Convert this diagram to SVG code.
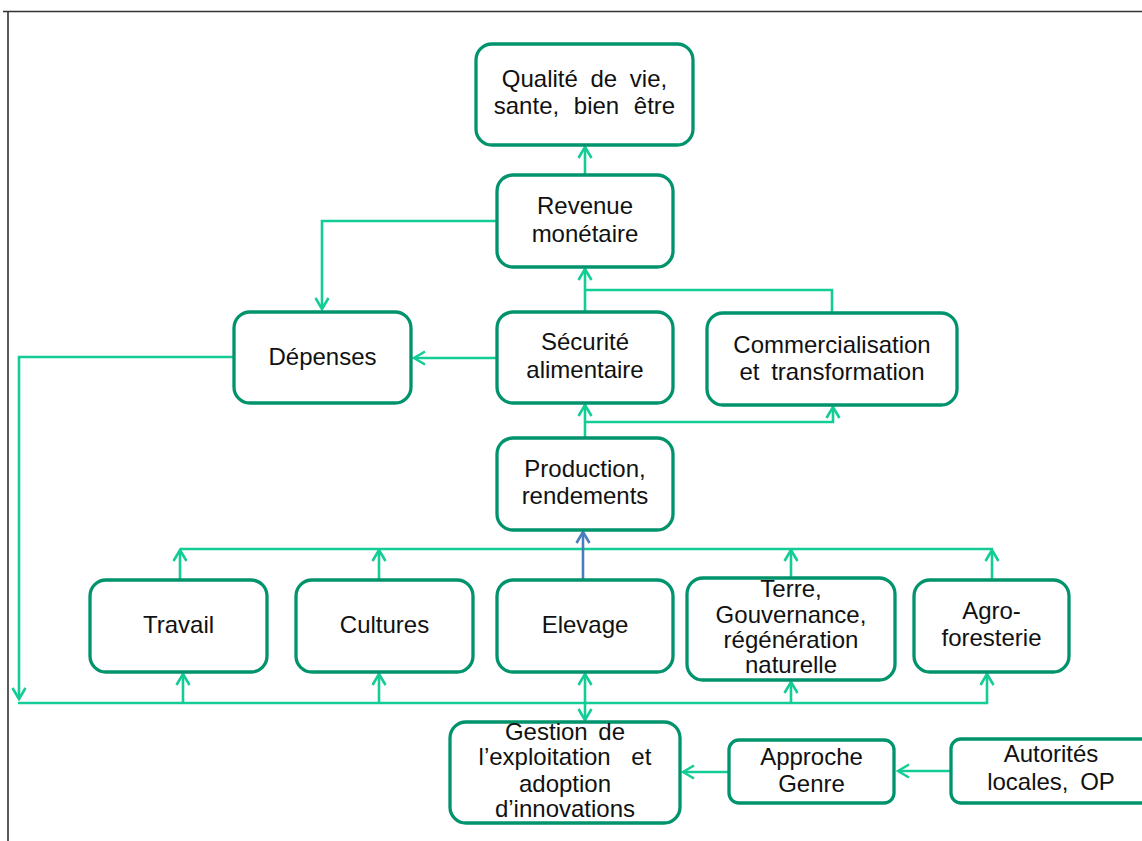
<svg xmlns="http://www.w3.org/2000/svg" width="1142" height="841" viewBox="0 0 1142 841">
<style>
.n rect{fill:#fff;stroke:#00936c;stroke-width:3.3}
.n text{font-family:"Liberation Sans",Arial,sans-serif;font-size:24px;fill:#111;text-anchor:middle}
.c path{fill:none;stroke:#14cc95;stroke-width:2.6}
.c .b{stroke:#4a7ebb}
</style>
<defs>
<marker id="a" markerUnits="userSpaceOnUse" viewBox="-13 -9 15 18" markerWidth="15" markerHeight="18" refX="0" refY="0" orient="auto-start-reverse">
<path d="M-11,-6.5 L0,0 L-11,6.5" fill="none" stroke="#14cc95" stroke-width="2.6"/>
</marker>
<marker id="ab" markerUnits="userSpaceOnUse" viewBox="-13 -9 15 18" markerWidth="15" markerHeight="18" refX="0" refY="0" orient="auto">
<path d="M-11,-6.5 L0,0 L-11,6.5" fill="none" stroke="#4a7ebb" stroke-width="2.6"/>
</marker>
</defs>
<rect width="1142" height="841" fill="#fff"/>
<path d="M3,11.5 H1142 M8,11 V841" stroke="#333" stroke-width="1.6" fill="none"/>
<g id="connectors" class="c">
<path d="M585,175 V147" marker-end="url(#a)"/>
<path d="M497,221 H322 V309" marker-end="url(#a)"/>
<path d="M497,358 H414" marker-end="url(#a)"/>
<path d="M585,312 V269" marker-end="url(#a)"/>
<path d="M585,290 H832 V313"/>
<path d="M585,438 V405" marker-end="url(#a)"/>
<path d="M585,422 H833 V407" marker-end="url(#a)"/>
<path d="M234,357 H19 V699" marker-end="url(#a)"/>
<path d="M180,549 H993"/>
<path d="M180,580 V550" marker-end="url(#a)"/>
<path d="M379,580 V550" marker-end="url(#a)"/>
<path d="M791,578 V550" marker-end="url(#a)"/>
<path d="M992,580 V550" marker-end="url(#a)"/>
<path d="M18,703 H987 V674" marker-end="url(#a)"/>
<path d="M183,703 V674" marker-end="url(#a)"/>
<path d="M379,703 V674" marker-end="url(#a)"/>
<path d="M791,703 V682" marker-end="url(#a)"/>
<path d="M585,674 V720" marker-start="url(#a)" marker-end="url(#a)"/>
<path d="M729,772 H683" marker-end="url(#a)"/>
<path d="M951,771 H898" marker-end="url(#a)"/>
<path class="b" d="M583,580 V532" marker-end="url(#ab)"/>
</g>
<g id="qualite" class="n"><rect x="476" y="44" width="217" height="101" rx="16"/><text x="584.5" y="87" font-size="21" word-spacing="6">Qualité de vie,</text><text x="584.5" y="114" font-size="21" word-spacing="8">sante, bien être</text></g>
<g id="revenue" class="n"><rect x="497" y="175" width="176" height="92" rx="16"/><text x="585" y="214">Revenue</text><text x="585" y="242">monétaire</text></g>
<g id="depenses" class="n"><rect x="234" y="312" width="177" height="91" rx="16"/><text x="322.5" y="365">Dépenses</text></g>
<g id="securite" class="n"><rect x="497" y="312" width="176" height="91" rx="16"/><text x="585" y="350">Sécurité</text><text x="585" y="378">alimentaire</text></g>
<g id="commercialisation" class="n"><rect x="707" y="313" width="250" height="92" rx="16"/><text x="832" y="353">Commercialisation</text><text x="832" y="380" word-spacing="5">et transformation</text></g>
<g id="production" class="n"><rect x="497" y="438" width="176" height="92" rx="16"/><text x="585" y="477">Production,</text><text x="585" y="504">rendements</text></g>
<g id="travail" class="n"><rect x="90" y="580" width="177" height="92" rx="16"/><text x="178.5" y="633">Travail</text></g>
<g id="cultures" class="n"><rect x="296" y="580" width="177" height="92" rx="16"/><text x="384.5" y="633">Cultures</text></g>
<g id="elevage" class="n"><rect x="497" y="580" width="176" height="92" rx="16"/><text x="585" y="633">Elevage</text></g>
<g id="terre" class="n"><rect x="687" y="578" width="208" height="102" rx="16"/><text x="791" y="597" font-size="22">Terre,</text><text x="791" y="623" font-size="22">Gouvernance,</text><text x="791" y="648" font-size="22">régénération</text><text x="791" y="673" font-size="22">naturelle</text></g>
<g id="agroforesterie" class="n"><rect x="914" y="580" width="155" height="92" rx="16"/><text x="991.5" y="619">Agro-</text><text x="991.5" y="646">foresterie</text></g>
<g id="gestion" class="n"><rect x="450" y="722" width="230" height="101" rx="16"/><text x="565" y="740" font-size="22" word-spacing="4">Gestion de</text><text x="565" y="765" font-size="22" word-spacing="14">l’exploitation et</text><text x="565" y="792" font-size="22">adoption</text><text x="565" y="817" font-size="22">d’innovations</text></g>
<g id="approche" class="n"><rect x="729" y="740" width="165" height="63" rx="10"/><text x="811.5" y="765">Approche</text><text x="811.5" y="792">Genre</text></g>
<g id="autorites" class="n"><rect x="951" y="739" width="205" height="64" rx="10"/><text x="1051" y="762">Autorités</text><text x="1051" y="790" word-spacing="5">locales, OP</text></g>
</svg>
